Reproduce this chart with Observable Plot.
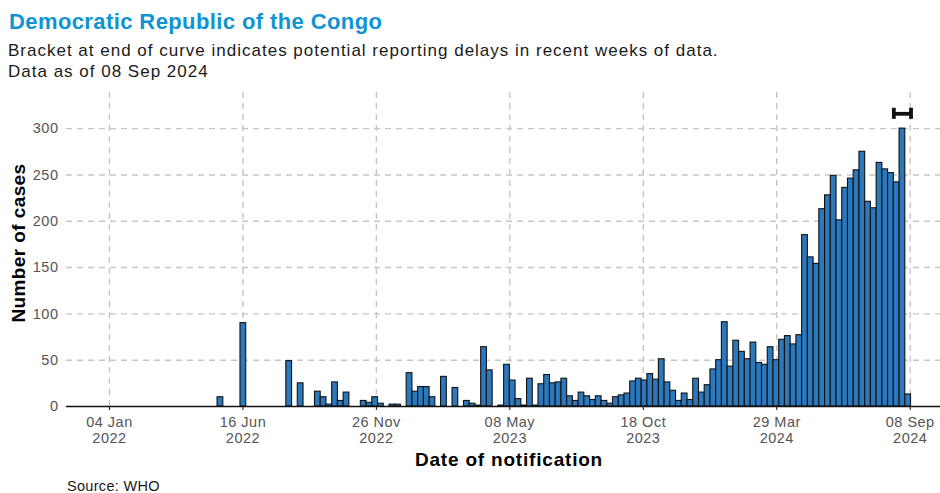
<!DOCTYPE html>
<html>
<head>
<meta charset="utf-8">
<script src="https://cdn.jsdelivr.net/npm/d3@7"></script>
<script src="https://cdn.jsdelivr.net/npm/@observablehq/plot@0.6"></script>
<style>
  html, body { margin: 0; padding: 0; background: #fff; }
  #wrap { position: relative; width: 940px; height: 493px; font-family: "Liberation Sans", Arial, sans-serif; overflow: hidden; }
  #wrap svg { position: absolute; left: 0; top: 0; }
  #wrap svg text { letter-spacing: 0.5px; }
  .title { position: absolute; left: 9px; top: 11.4px; line-height: 1; font-size: 22px; letter-spacing: 0.4px; font-weight: bold; color: #0f93d2; white-space: nowrap; }
  .sub { position: absolute; left: 8px; line-height: 1; font-size: 17px; letter-spacing: 1px; color: #1a1a1a; white-space: nowrap; }
  .ylab { position: absolute; left: 18px; top: 242.5px; line-height: 1; transform: translate(-50%, -50%) rotate(-90deg); font-size: 19px; letter-spacing: 0.4px; font-weight: bold; color: #000; white-space: nowrap; }
  .xlab { position: absolute; left: 509px; top: 450px; line-height: 1; transform: translateX(-50%); font-size: 19px; letter-spacing: 0.8px; font-weight: bold; color: #000; white-space: nowrap; }
  .src { position: absolute; left: 67px; top: 478.7px; line-height: 1; font-size: 14.5px; letter-spacing: 0.3px; color: #1a1a1a; white-space: nowrap; }
</style>
</head>
<body>
<div id="wrap">
  <div class="title">Democratic Republic of the Congo</div>
  <div class="sub" style="top:42.3px">Bracket at end of curve indicates potential reporting delays in recent weeks of data.</div>
  <div class="sub" style="top:62.9px">Data as of 08 Sep 2024</div>
  <div class="ylab">Number of cases</div>
  <div class="xlab">Date of notification</div>
  <div class="src">Source: WHO</div>
</div>
<script>
// Week start dates (Monday) of notification weeks
const weekStarts = [
  "2022-05-16","2022-06-13","2022-08-08","2022-08-22","2022-09-12","2022-09-19","2022-09-26",
  "2022-10-03","2022-10-10","2022-10-17","2022-11-07","2022-11-14","2022-11-21","2022-11-28",
  "2022-12-12","2022-12-19",
  "2023-01-02","2023-01-09","2023-01-16","2023-01-23","2023-01-30","2023-02-13","2023-02-27",
  "2023-03-13","2023-03-20","2023-03-27","2023-04-03","2023-04-10","2023-04-24","2023-05-01",
  "2023-05-08","2023-05-15","2023-05-22","2023-05-29","2023-06-05","2023-06-12","2023-06-19",
  "2023-06-26","2023-07-03","2023-07-10","2023-07-17","2023-07-24","2023-07-31","2023-08-07",
  "2023-08-14","2023-08-21","2023-08-28","2023-09-04","2023-09-11","2023-09-18","2023-09-25",
  "2023-10-02","2023-10-09","2023-10-16","2023-10-23","2023-10-30","2023-11-06","2023-11-13",
  "2023-11-20","2023-11-27","2023-12-04","2023-12-11","2023-12-18","2023-12-25",
  "2024-01-01","2024-01-08","2024-01-15","2024-01-22","2024-01-29","2024-02-05","2024-02-12",
  "2024-02-19","2024-02-26","2024-03-04","2024-03-11","2024-03-18","2024-03-25","2024-04-01",
  "2024-04-08","2024-04-15","2024-04-22","2024-04-29","2024-05-06","2024-05-13","2024-05-20",
  "2024-05-27","2024-06-03","2024-06-10","2024-06-17","2024-06-24","2024-07-01","2024-07-08",
  "2024-07-15","2024-07-22","2024-07-29","2024-08-05","2024-08-12","2024-08-19","2024-08-26",
  "2024-09-02"
];
const cases = [
  10, 90, 49, 25, 16, 10, 2,
  26, 6, 15, 6, 4, 10, 3,
  2, 2,
  36, 16, 21, 21, 10, 32, 20,
  6, 3, 1, 64, 39, 1, 45,
  28, 8, 1, 30, 1, 24, 34,
  25, 26, 30, 11, 6, 15, 11,
  7, 11, 6, 3, 10, 12, 14,
  27, 30, 28, 35, 29, 51, 26,
  17, 6, 14, 7, 30, 15,
  23, 40, 50, 91, 43, 71, 59,
  51, 69, 47, 45, 64, 50, 72,
  76, 67, 77, 185, 161, 154, 213,
  228, 249, 201, 236, 246, 255, 275,
  221, 214, 263, 256, 252, 242, 300,
  13
];
const tickDates = ["2022-01-04","2022-06-16","2022-11-26","2023-05-08","2023-10-18","2024-03-29","2024-09-08"];
const tickLabels = ["04 Jan\n2022","16 Jun\n2022","26 Nov\n2022","08 May\n2023","18 Oct\n2023","29 Mar\n2024","08 Sep\n2024"];
const yTicks = [0, 50, 100, 150, 200, 250, 300];
// Reporting-delay bracket
const bracketStart = "2024-08-19";
const bracketEnd = "2024-09-09";
const bracketLevel = 316;

const parse = d3.utcParse("%Y-%m-%d");
const bars = weekStarts.map((w, i) => {
  const s = parse(w);
  return {x1: s, x2: d3.utcDay.offset(s, 7), y: cases[i]};
});
const ticks = tickDates.map(parse);
const labelOf = new Map(ticks.map((t, i) => [+t, tickLabels[i]]));
const b1 = parse(bracketStart), b2 = parse(bracketEnd);

const plot = Plot.plot({
  width: 940,
  height: 493,
  marginLeft: 66,
  marginRight: 0,
  marginTop: 92,
  marginBottom: 87,
  style: {fontFamily: "Liberation Sans, Arial, sans-serif", background: "transparent"},
  x: {type: "utc", domain: [new Date(Date.UTC(2021, 10, 12, 12)), new Date(Date.UTC(2024, 9, 15))]},
  y: {domain: [0, 339]},
  marks: [
    Plot.ruleY(yTicks.filter(v => v > 0), {stroke: "#c6c6c6", strokeWidth: 1.4, strokeDasharray: "6,5"}),
    Plot.ruleX(ticks, {stroke: "#c6c6c6", strokeWidth: 1.4, strokeDasharray: "6,5"}),
    Plot.rectY(bars, {x1: "x1", x2: "x2", y: "y", fill: "#2c78bd", stroke: "#111", strokeWidth: 1.1}),
    Plot.ruleY([0], {stroke: "#111", strokeWidth: 1.4}),
    Plot.ruleY([bracketLevel], {x1: b1, x2: b2, stroke: "#111", strokeWidth: 3.8}),
    Plot.ruleX([b1, b2], {y1: bracketLevel - 6, y2: bracketLevel + 6, stroke: "#111", strokeWidth: 3.8}),
    Plot.axisX({ticks: ticks, tickFormat: d => labelOf.get(+d), tickSize: 4, tickPadding: 5, lineHeight: 1.12, fontSize: 14.5, color: "#555", stroke: "#111", label: null}),
    Plot.axisY({ticks: yTicks, tickSize: 0, tickPadding: 8, fontSize: 14.5, color: "#555", label: null})
  ]
});
document.getElementById("wrap").prepend(plot);
</script>
</body>
</html>
